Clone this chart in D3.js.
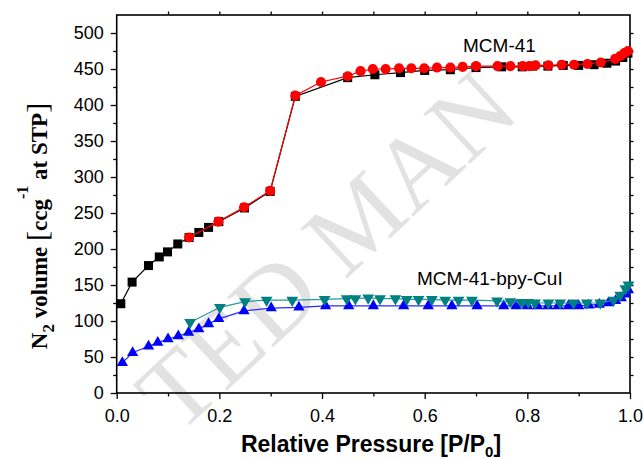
<!DOCTYPE html>
<html>
<head>
<meta charset="utf-8">
<script src="https://cdn.jsdelivr.net/npm/d3@7/dist/d3.min.js"></script>
<style>
  body { margin: 0; background: #fff; }
  svg { display: block; }
</style>
</head>
<body>
<svg id="chart" width="643" height="459"></svg>
<script>
// ===== DATA =====
// MCM-41, adsorption (black squares)
const mcmAds = [
  [0.008, 124], [0.030, 154], [0.062, 177], [0.083, 189], [0.099, 196],
  [0.119, 207], [0.141, 216], [0.160, 223], [0.179, 230], [0.199, 238],
  [0.249, 257], [0.299, 280], [0.348, 412], [0.450, 438], [0.503, 442],
  [0.553, 445], [0.600, 448], [0.650, 449], [0.700, 452], [0.750, 453],
  [0.790, 453], [0.810, 454], [0.840, 454], [0.870, 455], [0.900, 455],
  [0.930, 456], [0.955, 458], [0.972, 461], [0.986, 466], [0.996, 472]
];
// MCM-41, desorption (red circles)
const mcmDes = [
  [0.996, 475], [0.989, 472], [0.981, 468], [0.971, 464], [0.943, 459],
  [0.917, 457], [0.891, 456], [0.867, 456], [0.841, 455], [0.816, 455],
  [0.804, 454], [0.791, 454], [0.767, 454], [0.742, 454], [0.700, 454],
  [0.674, 453], [0.650, 452], [0.624, 452], [0.599, 451], [0.574, 451],
  [0.550, 451], [0.524, 450], [0.499, 450], [0.475, 447], [0.450, 440],
  [0.398, 432], [0.348, 413], [0.299, 281], [0.248, 258], [0.198, 238],
  [0.141, 216]
];
// MCM-41-bpy-CuI, adsorption (blue up triangles)
const cuAds = [
  [0.011, 42], [0.031, 56], [0.062, 65], [0.080, 70], [0.100, 75],
  [0.120, 79], [0.140, 84], [0.160, 89], [0.179, 96], [0.199, 103],
  [0.248, 114], [0.301, 118], [0.355, 119], [0.407, 121], [0.452, 121],
  [0.500, 121], [0.559, 121], [0.607, 121], [0.653, 121], [0.702, 121],
  [0.754, 121], [0.778, 121], [0.800, 121], [0.820, 121], [0.840, 121],
  [0.860, 121], [0.880, 121], [0.900, 121], [0.920, 122], [0.940, 123],
  [0.958, 125], [0.972, 128], [0.983, 132], [0.991, 137], [0.997, 143]
];
// MCM-41-bpy-CuI, desorption (teal down triangles)
const cuDes = [
  [0.997, 150], [0.991, 145], [0.981, 136], [0.968, 129], [0.942, 125],
  [0.916, 125], [0.890, 125], [0.864, 125], [0.841, 125], [0.815, 125],
  [0.802, 126], [0.789, 126], [0.767, 127], [0.741, 128], [0.692, 129],
  [0.666, 129], [0.640, 129], [0.614, 130], [0.588, 130], [0.565, 130],
  [0.543, 131], [0.513, 131], [0.490, 132], [0.465, 131], [0.448, 131],
  [0.405, 130], [0.342, 129], [0.292, 129], [0.250, 127], [0.201, 119],
  [0.143, 98]
];

const xTicks = [0, 0.2, 0.4, 0.6, 0.8, 1.0];
const yTicks = [0, 50, 100, 150, 200, 250, 300, 350, 400, 450, 500];
const seriesLabels = ['MCM-41', 'MCM-41-bpy-CuI'];

// ===== LAYOUT =====
const LEFT = 116.7, RIGHT = 630, TOP = 15, BOTTOM = 393;
const SANS = "'Liberation Sans', Arial, sans-serif";
const SERIF = "'Liberation Serif', 'Times New Roman', serif";

const svg = d3.select('#chart');
const x = d3.scaleLinear().domain([0, 1]).range([LEFT, RIGHT]);
const y = d3.scaleLinear().domain([0, 525]).range([BOTTOM, TOP]);

// ----- watermark (behind everything, kept inside the picture) -----
svg.append('text')
  .attr('transform', 'translate(178,436) rotate(-43)')
  .attr('font-family', SERIF)
  .attr('font-size', 104)
  .attr('fill', '#e2e2e2')
  .text('TED MAN');

// ----- axes -----
const fmtX = d => d.toFixed(1);

function styleAxis(g) {
  g.select('.domain').remove();
  g.selectAll('line').attr('stroke', '#000').attr('stroke-width', 1.3);
  g.selectAll('text').attr('font-family', SANS).attr('font-size', 18).attr('fill', '#000');
}

// minor ticks
svg.append('g').attr('transform', `translate(${LEFT},0)`)
  .call(d3.axisLeft(y).tickValues(d3.range(25, 525, 50)).tickSize(3.5).tickFormat(''))
  .call(styleAxis);
svg.append('g').attr('transform', `translate(0,${BOTTOM})`)
  .call(d3.axisBottom(x).tickValues([0.1, 0.3, 0.5, 0.7, 0.9]).tickSize(3.5).tickFormat(''))
  .call(styleAxis);
svg.append('g').attr('transform', `translate(0,${TOP})`)
  .call(d3.axisTop(x).tickValues(d3.range(0.1, 1, 0.1)).tickSize(3.5).tickFormat(''))
  .call(styleAxis);
svg.append('g').attr('transform', `translate(${RIGHT},0)`)
  .call(d3.axisRight(y).tickValues(d3.range(25, 525, 25)).tickSize(3.5).tickFormat(''))
  .call(styleAxis);

// major ticks + labels
svg.append('g').attr('transform', `translate(${LEFT},0)`)
  .call(d3.axisLeft(y).tickValues(yTicks).tickSize(6).tickPadding(7))
  .call(styleAxis);
svg.append('g').attr('transform', `translate(0,${BOTTOM})`)
  .call(d3.axisBottom(x).tickValues(xTicks).tickSize(6).tickPadding(10).tickFormat(fmtX))
  .call(styleAxis);

// frame
svg.append('rect')
  .attr('x', LEFT).attr('y', TOP)
  .attr('width', RIGHT - LEFT).attr('height', BOTTOM - TOP)
  .attr('fill', 'none').attr('stroke', '#000').attr('stroke-width', 1.6);

// ----- series -----
const line = d3.line().x(d => x(d[0])).y(d => y(d[1]));

function drawSeries(data, color, lineColor, symbol, size, rotate) {
  svg.append('path')
    .datum(data)
    .attr('d', line)
    .attr('fill', 'none')
    .attr('stroke', lineColor)
    .attr('stroke-width', 1.2);
  svg.append('g').selectAll('path')
    .data(data)
    .enter()
    .append('path')
    .attr('d', d3.symbol().type(symbol).size(size))
    .attr('transform', d => `translate(${x(d[0])},${y(d[1])})` + (rotate ? ' rotate(180)' : ''))
    .attr('fill', color);
}

drawSeries(mcmAds, '#000000', '#000000', d3.symbolSquare, 81, false);
drawSeries(mcmDes, '#ff0000', '#ff0000', d3.symbolCircle, 80, false);
drawSeries(cuAds, '#0000ff', '#2a2aff', d3.symbolTriangle, 55, false);
drawSeries(cuDes, '#008080', '#2a9a9a', d3.symbolTriangle, 60, true);

// ----- series labels -----
svg.append('text')
  .attr('x', 463).attr('y', 52)
  .attr('font-family', SANS).attr('font-size', 19)
  .text(seriesLabels[0]);
svg.append('text')
  .attr('x', 417).attr('y', 285)
  .attr('font-family', SANS).attr('font-size', 19)
  .text(seriesLabels[1]);

// ----- axis titles -----
const xTitle = svg.append('text')
  .attr('x', 371).attr('y', 452)
  .attr('text-anchor', 'middle')
  .attr('font-family', SANS).attr('font-size', 23).attr('font-weight', 'bold');
xTitle.append('tspan').text('Relative Pressure [P/P');
xTitle.append('tspan').attr('font-size', 15).attr('dy', 5).text('0');
xTitle.append('tspan').attr('dy', -5).text(']');

const yTitle = svg.append('text')
  .attr('transform', 'translate(47,226) rotate(-90)')
  .attr('text-anchor', 'middle')
  .attr('font-family', SERIF).attr('font-size', 23).attr('font-weight', 'bold');
yTitle.append('tspan').text('N');
yTitle.append('tspan').attr('font-size', 17).attr('dy', 7).text('2');
yTitle.append('tspan').attr('dy', -7).text(' volume ');
yTitle.append('tspan').attr('font-size', 30).attr('font-weight', 'normal').text('[');
yTitle.append('tspan').text('ccg');
yTitle.append('tspan').attr('font-size', 16).attr('dy', -19).text('-1');
yTitle.append('tspan').attr('dy', 19).text('  at  STP');
yTitle.append('tspan').attr('font-size', 30).attr('font-weight', 'normal').text(']');
</script>
</body>
</html>
